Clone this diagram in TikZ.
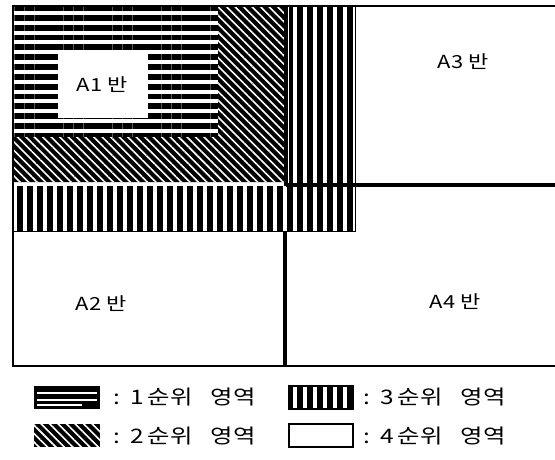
\documentclass[tikz,border=0pt]{standalone}
\usepackage{fontspec}
\setmainfont{Noto Sans CJK KR}
\newfontfamily\widefont[FakeStretch=1.22]{Noto Sans CJK KR}
\usetikzlibrary{patterns.meta}
\newcommand{\legtext}[1]{:\hspace{10pt}#1\hspace{4pt}순위\hspace{18pt}영역}
\begin{document}
\begin{tikzpicture}[x=1pt,y=-1pt,
  hstripe/.style={pattern={Lines[angle=0,distance=9.8pt,line width=5.8pt]},pattern color=black},
  vstripe/.style={pattern={Lines[angle=90,distance=10pt,line width=6pt]},pattern color=black},
  diag/.style={fill=black,postaction={pattern={Lines[angle=-45,distance=6pt,line width=1.6pt]},pattern color=white}},
  wall/.style={line width=4pt},
  frame/.style={line width=1.6pt},
  lbl/.style={font=\widefont\fontsize{18}{20}\selectfont},
  leg/.style={font=\widefont\fontsize{20}{22}\selectfont,anchor=west}]
\useasboundingbox (0,0) rectangle (555,459);
% priority 1 region
\fill[hstripe] (13,6) rectangle (218,137);
\fill[white] (58,53) rectangle (148,118);
% priority 2 region
\path[diag] (218,6) -- (287,6) -- (287,182) -- (13,182) -- (13,137) -- (218,137) -- cycle;
% priority 3 region
\path[vstripe] (289,6) -- (355,6) -- (355,231) -- (13,231) -- (13,186) -- (289,186) -- cycle;
\draw[line width=1pt] (355,6) -- (355,231) -- (13,231);
% walls and frame
\draw[wall] (286,6) -- (286,186);
\draw[wall] (286,185) -- (555,185);
\draw[wall] (285,231) -- (285,366);
\draw[frame] (13,6) -- (555,6);
\draw[frame] (13,5.2) -- (13,366);
\draw[frame] (12.2,366) -- (555,366);
% labels
\node[lbl] (a1) at (102,85) {A1 반};
\node[lbl] (a3) at (463,62) {A3 반};
\node[lbl] (a2) at (101,304) {A2 반};
\node[lbl] (a4) at (455,302) {A4 반};
% legend
\fill[black] (34,386) rectangle (100,409);
\draw[white,line width=1.3pt] (37,393) -- (97,393) (37,400) -- (97,400) (37,405) -- (82,405);
\node[leg] (t1) at (110,397.5) {\legtext{1}};
\path[diag] (34,424) rectangle (100,447);
\node[leg] (t2) at (110,436) {\legtext{2}};
\path[vstripe,draw,line width=1.5pt] (289,386) rectangle (353,409);
\node[leg] (t3) at (360,397.5) {\legtext{3}};
\draw[line width=1.8pt] (289,424) rectangle (353,447);
\node[leg] (t4) at (360,436) {\legtext{4}};
\end{tikzpicture}
\end{document}
